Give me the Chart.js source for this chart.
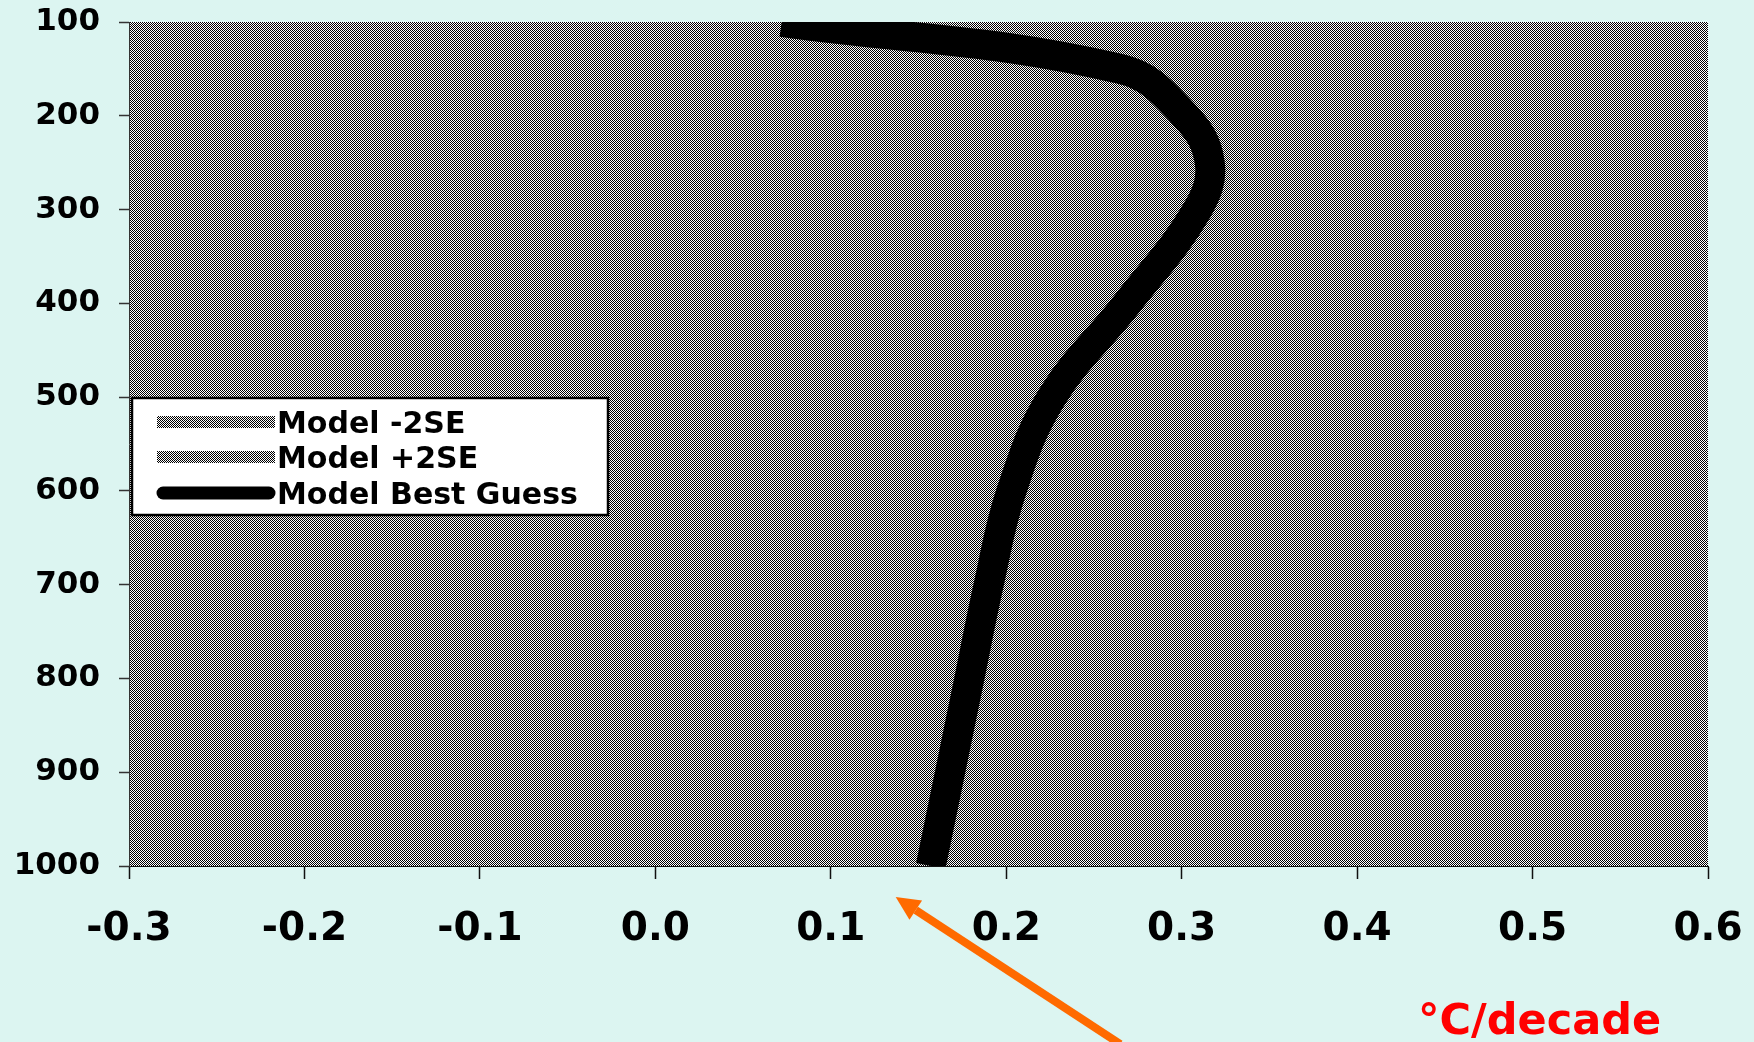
<!DOCTYPE html>
<html>
<head>
<meta charset="utf-8">
<title>Model temperature trend profile</title>
<script src="https://cdn.jsdelivr.net/npm/chart.js@4.4.1/dist/chart.umd.min.js"></script>
<style>
    html, body { margin: 0; padding: 0; background: #dcf5f1; }
    #chart { display: block; }
</style>
</head>
<body>
<canvas id="chart" width="1754" height="1042"></canvas>
<script>
// pressure levels (hPa) and trends (°C/decade)
var pressureLevels = [1000, 900, 800, 700, 600, 500, 400, 300, 250, 200, 150, 100];
var bestGuess = [0.157, 0.168, 0.179, 0.190, 0.203, 0.226, 0.269, 0.309, 0.316, 0.302, 0.265, 0.072];
// the +/-2SE curves are drawn in the same dither as the plot area, so they can't be read off
var minus2SE = [0.08, 0.09, 0.10, 0.11, 0.12, 0.14, 0.18, 0.21, 0.22, 0.21, 0.18, 0.00];
var plus2SE = [0.23, 0.24, 0.25, 0.27, 0.28, 0.31, 0.36, 0.41, 0.41, 0.39, 0.35, 0.15];
var seriesNames = ['Model -2SE', 'Model +2SE', 'Model Best Guess'];
var xTicks = [-0.3, -0.2, -0.1, 0.0, 0.1, 0.2, 0.3, 0.4, 0.5, 0.6];
var yTicks = [100, 200, 300, 400, 500, 600, 700, 800, 900, 1000];

var FONT = '"DejaVu Sans", Verdana, sans-serif';

function makeDither() {
    var c = document.createElement('canvas');
    c.width = 2;
    c.height = 2;
    var g = c.getContext('2d');
    g.fillStyle = '#ffffff';
    g.fillRect(0, 0, 2, 2);
    g.fillStyle = '#000000';
    g.fillRect(0, 0, 1, 1);
    g.fillRect(1, 1, 1, 1);
    return g.createPattern(c, 'repeat');
}
var dither = makeDither();

function toPoints(values) {
    return pressureLevels.map(function (p, i) {
        return { x: values[i], y: p };
    });
}

var backgroundPlugin = {
    id: 'background',
    beforeDraw: function (chart) {
        var ctx = chart.ctx;
        var a = chart.chartArea;
        ctx.save();
        ctx.fillStyle = '#dcf5f1';
        ctx.fillRect(0, 0, chart.width, chart.height);
        ctx.fillStyle = dither;
        ctx.fillRect(a.left, a.top, a.right - a.left, a.bottom - a.top);
        ctx.restore();
    }
};

var extrasPlugin = {
    id: 'extras',
    afterDraw: function (chart) {
        var ctx = chart.ctx;
        var xs = chart.scales.x;
        var ys = chart.scales.y;
        ctx.save();

        // legend box
        var lx = 132, ly = 398, lw = 476, lh = 117;
        ctx.fillStyle = '#ffffff';
        ctx.fillRect(lx, ly, lw, lh);
        ctx.strokeStyle = '#000000';
        ctx.lineWidth = 2.5;
        ctx.strokeRect(lx, ly, lw, lh);
        var rows = [422, 457, 493];
        ctx.font = 'bold 30px ' + FONT;
        ctx.textBaseline = 'alphabetic';
        ctx.textAlign = 'left';
        chart.data.datasets.forEach(function (ds, i) {
            var cy = rows[i];
            if (i < 2) {
                ctx.fillStyle = dither;
                ctx.fillRect(157, cy - 6, 118, 12);
            } else {
                ctx.strokeStyle = '#000000';
                ctx.lineWidth = 13;
                ctx.lineCap = 'round';
                ctx.beginPath();
                ctx.moveTo(163, cy);
                ctx.lineTo(269, cy);
                ctx.stroke();
            }
            ctx.fillStyle = '#000000';
            ctx.fillText(ds.label, 277, cy + 11);
        });

        // axis unit
        ctx.fillStyle = '#ff0000';
        ctx.font = 'bold 43px ' + FONT;
        ctx.fillText('°C/decade', 1418, 1034);

        // orange arrow pointing at the surface value
        var tipX = xs.getPixelForValue(0.137), tipY = ys.getPixelForValue(1033);
        var tailX = xs.getPixelForValue(0.265), tailY = ys.getPixelForValue(1190);
        var ang = Math.atan2(tipY - tailY, tipX - tailX);
        var headLen = 24, headHalf = 11.5;
        var bx = tipX - headLen * Math.cos(ang), by = tipY - headLen * Math.sin(ang);
        ctx.strokeStyle = '#ff6a00';
        ctx.fillStyle = '#ff6a00';
        ctx.lineWidth = 8;
        ctx.lineCap = 'butt';
        ctx.beginPath();
        ctx.moveTo(tailX, tailY);
        ctx.lineTo(bx, by);
        ctx.stroke();
        ctx.beginPath();
        ctx.moveTo(tipX, tipY);
        ctx.lineTo(bx + headHalf * Math.sin(ang), by - headHalf * Math.cos(ang));
        ctx.lineTo(bx - headHalf * Math.sin(ang), by + headHalf * Math.cos(ang));
        ctx.closePath();
        ctx.fill();

        ctx.restore();
    }
};

var ctx = document.getElementById('chart').getContext('2d');
var chart = new Chart(ctx, {
    type: 'line',
    data: {
        datasets: [{
            label: seriesNames[0],
            data: toPoints(minus2SE),
            borderColor: dither,
            borderWidth: 6,
            pointRadius: 0,
            tension: 0.4,
            clip: 0,
            order: 1
        }, {
            label: seriesNames[1],
            data: toPoints(plus2SE),
            borderColor: dither,
            borderWidth: 6,
            pointRadius: 0,
            tension: 0.4,
            clip: 0,
            order: 1
        }, {
            label: seriesNames[2],
            data: toPoints(bestGuess),
            borderColor: '#000000',
            borderWidth: 30,
            pointRadius: 0,
            tension: 0.4,
            clip: 0,
            order: 0
        }]
    },
    options: {
        indexAxis: 'y',
        responsive: false,
        animation: false,
        layout: {
            padding: { top: 22, right: 46, left: 0, bottom: 0 }
        },
        plugins: {
            legend: { display: false },
            tooltip: { enabled: false }
        },
        scales: {
            x: {
                type: 'linear',
                min: xTicks[0],
                max: xTicks[xTicks.length - 1],
                afterFit: function (scale) {
                    scale.height = 176;
                    scale.paddingLeft = 0;
                    scale.paddingRight = 0;
                },
                afterBuildTicks: function (scale) {
                    scale.ticks = xTicks.map(function (v) { return { value: v }; });
                },
                grid: {
                    drawOnChartArea: false,
                    drawTicks: true,
                    tickLength: 13,
                    tickWidth: 1.5,
                    tickColor: '#111111'
                },
                border: { display: true, color: '#111111', width: 1 },
                ticks: {
                    autoSkip: false,
                    maxRotation: 0,
                    padding: 27,
                    color: '#000000',
                    font: { family: FONT, size: 39, weight: 'bold' },
                    callback: function (v) { return (Math.abs(v) < 1e-9 ? 0 : v).toFixed(1); }
                }
            },
            y: {
                type: 'linear',
                reverse: true,
                min: yTicks[0],
                max: yTicks[yTicks.length - 1],
                afterFit: function (scale) {
                    scale.width = 129;
                    scale.paddingTop = 0;
                    scale.paddingBottom = 0;
                },
                afterBuildTicks: function (scale) {
                    scale.ticks = yTicks.map(function (v) { return { value: v }; });
                },
                grid: {
                    drawOnChartArea: false,
                    drawTicks: true,
                    tickLength: 10,
                    tickWidth: 1.5,
                    tickColor: '#333333'
                },
                border: { display: true, color: '#333333', width: 1 },
                ticks: {
                    autoSkip: false,
                    padding: 19,
                    color: '#000000',
                    font: { family: FONT, size: 31, weight: 'bold' },
                    callback: function (v) { return String(v); }
                }
            }
        }
    },
    plugins: [backgroundPlugin, extrasPlugin]
});
</script>
</body>
</html>
